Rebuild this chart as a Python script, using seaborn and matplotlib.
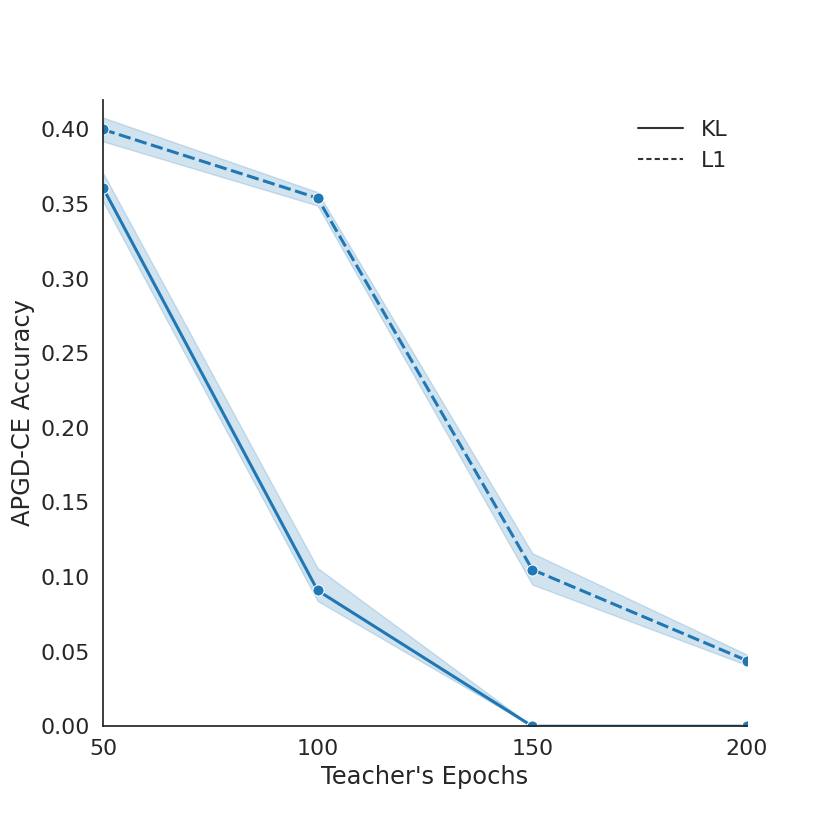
import matplotlib
matplotlib.use('Agg')
import matplotlib.pyplot as plt
from matplotlib.lines import Line2D
import seaborn as sns
import pandas as pd

epochs = [50, 100, 150, 200]
kl_acc = [0.361, 0.091, 0.0, 0.0]
kl_low = [0.352, 0.084, 0.0, 0.0]
kl_high = [0.371, 0.106, 0.0, 0.0]
l1_acc = [0.400, 0.354, 0.105, 0.044]
l1_low = [0.392, 0.349, 0.095, 0.041]
l1_high = [0.408, 0.358, 0.116, 0.048]

sns.set_theme(style='white', font_scale=1.45)
plt.rcParams['font.family'] = ['DejaVu Sans']

df = pd.DataFrame({
    'epochs': epochs * 2,
    'acc': kl_acc + l1_acc,
    'loss': ['KL'] * 4 + ['L1'] * 4,
})

blue = '#1f77b4'
fig, ax = plt.subplots(figsize=(8.3, 8.3), dpi=100)
fig.subplots_adjust(left=0.124, right=0.9, bottom=0.125, top=0.88)

ax.fill_between(epochs, kl_low, kl_high, color=blue, alpha=0.2)
ax.fill_between(epochs, l1_low, l1_high, color=blue, alpha=0.2)
sns.lineplot(data=df, x='epochs', y='acc', style='loss', errorbar=None,
             color=blue, marker='o', markersize=8, linewidth=2.2,
             markeredgecolor='white', legend=False, ax=ax)

# legend shows only the line styles, in dark grey
handles = [Line2D([], [], color='.2', linewidth=1.5, linestyle='-'),
           Line2D([], [], color='.2', linewidth=1.5, linestyle='--', dashes=(2.5, 1.5))]
ax.legend(handles, ['KL', 'L1'], frameon=False, loc='upper right')

ax.set_xlim(50, 200)
ax.set_ylim(0, 0.42)
ax.set_xticks(epochs)
ax.set_yticks([0, 0.05, 0.1, 0.15, 0.2, 0.25, 0.3, 0.35, 0.4])
ax.set_yticklabels(['0.00', '0.05', '0.10', '0.15', '0.20', '0.25', '0.30', '0.35', '0.40'])
ax.set_xlabel("Teacher's Epochs")
ax.set_ylabel('APGD-CE Accuracy')
sns.despine(ax=ax)

plt.savefig('out.png')
